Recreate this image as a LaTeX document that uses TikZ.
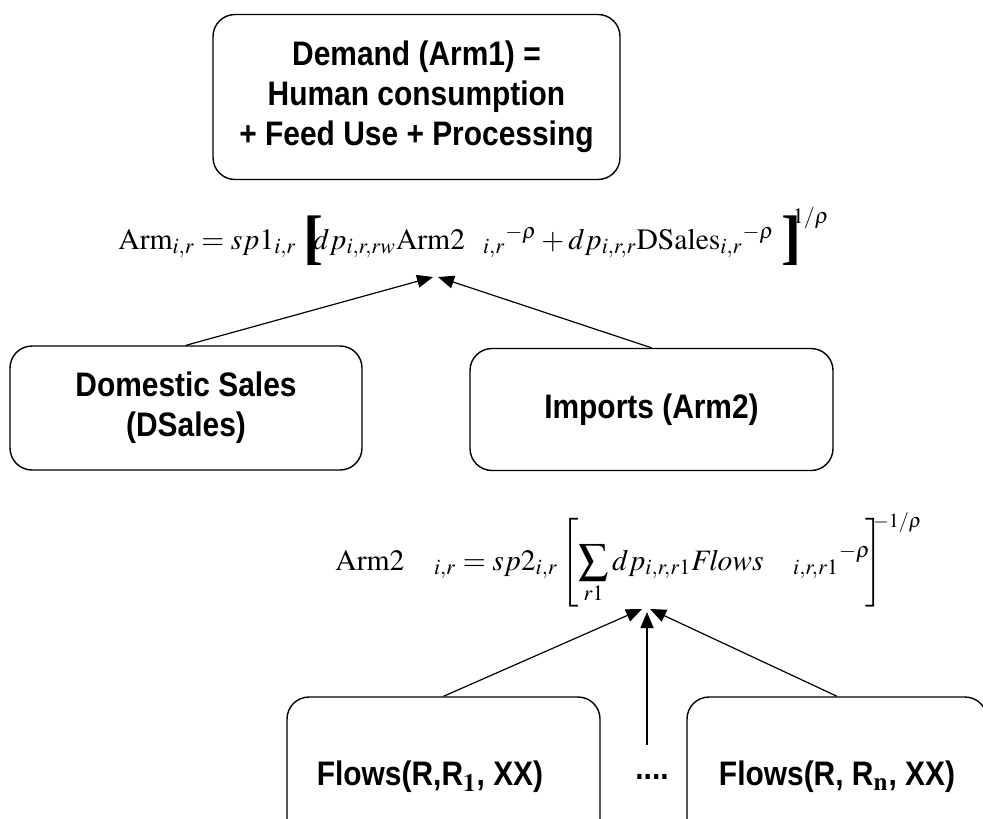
\documentclass[tikz,border=0pt]{standalone}
\usepackage{mathptmx}
\usepackage[no-math]{fontspec}
\setmainfont{Liberation Sans}
\newfontfamily\boxfont{Liberation Sans}[FakeStretch=0.88]
\newfontfamily\timesbf{Liberation Serif}
\usetikzlibrary{arrows.meta}

\tikzset{
  box/.style={draw, line width=0.7pt, rounded corners=11pt, align=center,
    font=\boxfont\fontsize{17}{20}\selectfont\bfseries, inner sep=0pt},
  boxtext/.style={font=\boxfont\fontsize{17}{20}\selectfont\bfseries},
  eqn/.style={anchor=base west, inner sep=0pt, font=\fontsize{14.8}{16}\selectfont},
  link/.style={-{Triangle[length=8pt,width=6.5pt]}, line width=0.6pt}
}

\begin{document}
\begin{tikzpicture}[x=0.5pt,y=-0.5pt]
\useasboundingbox (0,0) rectangle (983,818);
\clip (0,0) rectangle (983,818);
\node[box, minimum width=203.5pt, minimum height=82.5pt] (demand) at (416.5,97) {Demand (Arm1) =\\Human consumption\\+ Feed Use + Processing};
\node[eqn] (arm1) at (118,249)
  {$\mathrm{Arm}_{i,r} = sp1_{i,r}\;\raisebox{-0.28em}{\timesbf\bfseries\fontsize{30}{30}\selectfont [}\!\!\!dp_{i,r,rw}\mathrm{Arm2}\enspace\,{}_{i,r}{}^{-\rho} + dp_{i,r,r}\mathrm{DSales}_{i,r}{}^{-\rho}\;\raisebox{-0.28em}{\timesbf\bfseries\fontsize{30}{30}\selectfont ]}\mkern-5mu\raisebox{0.85em}{$\scriptstyle 1/\rho$}$};
\node[box, minimum width=176pt, minimum height=62pt] (dsales) at (186,408) {Domestic Sales\\(DSales)};
\node[box, minimum width=181.5pt, minimum height=61pt] (imports) at (651.5,409.5) {Imports (Arm2)};
\coordinate (t1) at (433,277);
\coordinate (t2) at (438,277);
\draw[link] (dsales.north) -- (t1);
\draw[link] (imports.north) -- (t2);
\node[eqn] (arm2) at (335,570)
  {$\displaystyle \mathrm{Arm2}\quad{}_{i,r} = sp2_{i,r}\left[\sum_{r1} dp_{i,r,r1}\mathit{Flows}\quad{}_{i,r,r1}{}^{-\rho}\mkern-3mu\right]\mkern-8mu\raisebox{1.45em}{\fontsize{10}{10}\selectfont$-1/\rho$}$};
\node[box, minimum width=156.5pt, minimum height=80pt] (flow1) at (443.5,777) {};
\node[boxtext] (flow1txt) at (430,777) {Flows(R,R$_{\mathbf{1}}$, XX)};
\node[boxtext] (dots) at (652,777) {....};
\node[box, minimum width=150pt, minimum height=80pt] (flown) at (837,777) {Flows(R, R$_{\mathbf{n}}$, XX)};
\coordinate (t3) at (642,609);
\coordinate (t4) at (647,612);
\coordinate (t5) at (650,609);
\coordinate (mid) at (647,745);
\draw[link] (flow1.north) -- (t3);
\draw[link] (mid) -- (t4);
\draw[link] (flown.north) -- (t5);
\end{tikzpicture}
\end{document}
